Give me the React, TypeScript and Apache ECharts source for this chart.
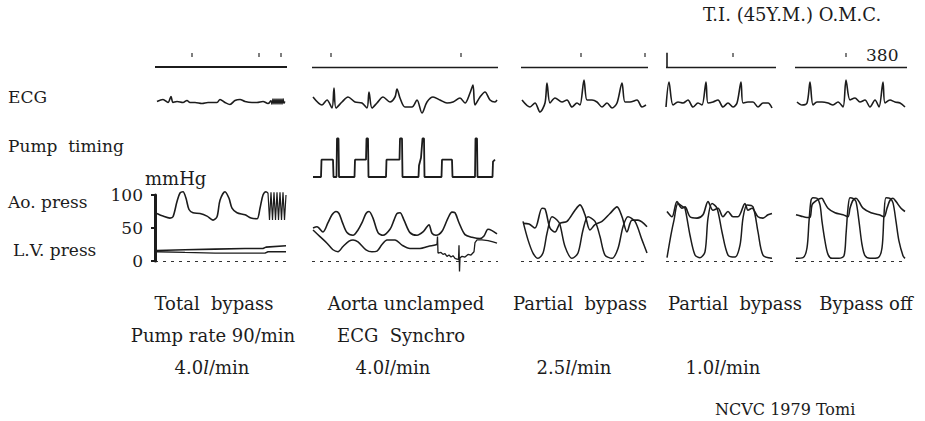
import { useEffect, useRef } from 'react';
import * as echarts from 'echarts';

// ---------------- DATA (time in chart-paper units within each panel) ----------------
const panelNames = ['Total  bypass', 'Aorta unclamped', 'Partial  bypass', 'Partial  bypass', 'Bypass off'];
const panelModes = ['Pump rate 90/min', 'ECG  Synchro'];
const panelFlows = ['4.0', '4.0', '2.5', '1.0'];
const rowLabels = ['ECG', 'Pump  timing', 'Ao. press', 'L.V. press'];
const pressureTicks = [0, 50, 100];
const headerText = 'T.I. (45Y.M.) O.M.C.';
const footerText = 'NCVC 1979 Tomi';
const speedLabel = '380';

// time-marker ticks per panel
const markerTicks1 = [37, 104, 126];
const markerTicks2 = [19, 149];
const markerTicks3 = [60, 124];
const markerTicks4 = [67];
const markerTicks5 = [51];
const markerStart4 = [[1, 0], [1, 0.95]];

// ECG (deflection units)
const ecg1 = [[2, 0], [8, 2], [13, -1], [16, 5], [18, -1], [22, 0], [28, -1], [32, 1], [35, -1], [40, -1], [47, -2], [53, -1], [62, -1], [65, 2], [70, -1], [75, -3], [80, 1], [85, 2], [90, 0], [97, -1], [102, -1], [108, 0], [113, -2], [116, 1]];
const ecg1Burst = [[116, 1], [117, -3], [118, 3], [119, -3], [120, 3], [121, -3], [122, 3], [123, -3], [124, 3], [125, -3], [126, 3], [127, -3], [128, 3], [129, -2], [130, 0]];
const ecg2 = [[1, 3], [10, -5], [15, 0], [20, -8], [22, 12], [24, -8], [30, -2], [36, 3], [43, -2], [50, -3], [55, -8], [57, 8], [60, -8], [65, -3], [71, 3], [78, -2], [83, 3], [85, 11], [88, 2], [93, -7], [100, -7], [105, 0], [110, -13], [115, -2], [121, 3], [128, 0], [135, -3], [141, -2], [148, 2], [153, -3], [158, 7], [161, 15], [163, -5], [168, 3], [173, 8], [178, 0], [183, -2], [185, 0]];
const ecg3 = [[1, 3], [9, -4], [14, 0], [19, -9], [24, 0], [26, 20], [29, 0], [34, 5], [41, 1], [46, 3], [51, -4], [56, 0], [59, -2], [63, 23], [66, 3], [71, 3], [76, 1], [81, -4], [86, 0], [91, -5], [96, 0], [101, 20], [104, 1], [109, 1], [116, 3], [121, -4], [125, -2]];
const ecg4 = [[0, -4], [3, 21], [7, -2], [12, 1], [17, 0], [22, 3], [27, -4], [32, 0], [36, -2], [40, 21], [42, 0], [47, 1], [52, 3], [57, -4], [62, 0], [67, -4], [71, 0], [75, 21], [77, 0], [82, 1], [87, 1], [92, -4], [97, 0], [102, 0], [106, -5]];
const ecg5 = [[2, 1], [7, -2], [12, 0], [15, 21], [18, -2], [22, 1], [27, 1], [33, 0], [38, -2], [43, 1], [48, -4], [51, 23], [55, 3], [60, 5], [65, 1], [70, 3], [75, -4], [80, 3], [84, -4], [88, 21], [90, 0], [95, 3], [100, 1], [105, 0], [110, -4]];

// Pump timing (panel 2), level 0 = off, ~0.9 = plateau, 2 = trigger spike
const pump2 = [[1, 0], [9, 0], [9.5, 0.9], [21, 0.9], [21.5, 0], [24.5, 0], [25, 2], [26.5, 2], [27, 0], [42.5, 0], [43, 0.9], [54, 0.9], [54.5, 2], [56, 2], [56.5, 0], [74, 0], [74.5, 0.9], [87.5, 0.9], [88, 2], [90, 2], [90.5, 0], [106.5, 0], [107, 0.6], [109, 1.0], [110.5, 2], [112, 2], [112.5, 0], [129.5, 0], [130, 0.9], [140, 0.9], [140.5, 0], [163, 0], [163.5, 2], [165, 2], [165.5, 0], [180.5, 0], [181, 0.8], [183, 0.9]];

// Pressures (mmHg)
const ao1 = [[2, 72], [8, 68], [15, 65], [18, 67], [22, 90], [25, 103], [28, 105], [31, 95], [34, 78], [38, 73], [45, 72], [52, 68], [58, 62], [62, 67], [65, 92], [70, 105], [74, 95], [77, 80], [82, 73], [90, 70], [96, 65], [102, 64], [105, 80], [108, 100], [111, 105], [113, 103]];
const ao1Burst = [[113, 103], [114.5, 62], [116, 104], [117.5, 62], [119, 104], [120.5, 62], [122, 104], [123.5, 62], [125, 104], [126.5, 62], [128, 104], [129.5, 62], [131, 100]];
const lv1Upper = [[2, 16], [30, 17], [60, 18], [90, 19], [108, 19], [111, 21], [131, 23]];
const lv1Lower = [[2, 14], [30, 13], [60, 12], [90, 12], [110, 12], [113, 14], [131, 14]];

const ao2 = [[1, 50], [5, 52], [11, 44], [16, 58], [20, 70], [24, 75], [27, 72], [30, 60], [35, 43], [41, 39], [46, 47], [50, 58], [54, 72], [57, 75], [61, 65], [66, 43], [71, 39], [78, 48], [82, 62], [85, 72], [88, 73], [92, 62], [98, 43], [105, 39], [111, 44], [115, 52], [117, 55], [120, 42], [124, 39], [130, 45], [136, 65], [140, 74], [143, 73], [147, 58], [153, 40], [160, 36], [168, 34], [172, 38], [176, 48], [180, 46], [185, 41]];
const lv2 = [[1, 47], [8, 37], [15, 27], [21, 17], [26, 14], [31, 22], [37, 30], [41, 32], [46, 29], [54, 17], [60, 14], [65, 15], [70, 25], [75, 32], [83, 32], [90, 24], [98, 19], [108, 19], [116, 22], [125, 25]];
const lv2Noise = [[125, 25], [125.5, 37], [126, 12], [129, 13], [131, 10], [133, 11], [135, 7], [137, 9], [139, 6], [141, 8], [143, 4], [145, 3], [146.5, 2], [147, 24], [147.5, -16], [148, 5], [150, 7], [153, 6], [156, 10], [159, 9], [162, 14], [163, 28], [165, 32], [170, 32], [176, 31], [181, 29], [185, 27]];

const ao3 = [[2, 57], [8, 56], [14, 50], [21, 80], [24, 79], [29, 50], [34, 44], [39, 57], [46, 60], [54, 77], [59, 85], [64, 70], [69, 47], [74, 55], [81, 60], [89, 72], [96, 82], [101, 67], [106, 44], [111, 62], [117, 62], [126, 52]];
const lv3 = [[2, 60], [7, 32], [12, 12], [17, 4], [22, 12], [26, 42], [31, 67], [36, 62], [39, 55], [44, 22], [51, 4], [57, 12], [62, 47], [67, 67], [74, 60], [79, 37], [84, 9], [91, 4], [97, 19], [102, 52], [107, 67], [114, 60], [121, 32], [126, 12]];

const ao4 = [[1, 75], [6, 67], [11, 90], [16, 80], [19, 82], [24, 67], [31, 65], [37, 70], [42, 90], [47, 77], [52, 80], [57, 67], [62, 75], [67, 67], [72, 67], [79, 87], [82, 77], [86, 80], [92, 67], [97, 65], [102, 70], [106, 72]];
const lv4 = [[1, 5], [5, 40], [8, 62], [12, 87], [17, 82], [19, 80], [24, 39], [29, 9], [34, 5], [39, 14], [42, 65], [46, 87], [51, 80], [56, 44], [62, 9], [69, 6], [74, 24], [77, 65], [81, 85], [87, 82], [92, 44], [97, 9], [106, 4]];

const ao5 = [[1, 70], [6, 68], [12, 66], [15, 66], [17, 85], [20, 90], [24, 94], [27, 95], [29, 90], [33, 80], [40, 73], [48, 70], [53, 67], [55, 80], [58, 92], [61, 95], [64, 90], [68, 80], [76, 73], [84, 70], [89, 67], [92, 80], [95, 92], [98, 95], [101, 90], [106, 80], [110, 75]];
const lv5 = [[1, 4], [8, 5], [12, 20], [14, 60], [16, 92], [18, 96], [22, 95], [25, 85], [27, 60], [30, 30], [33, 10], [37, 4], [44, 4], [49, 8], [51, 40], [53, 80], [55, 96], [58, 95], [61, 90], [64, 60], [67, 25], [70, 8], [75, 4], [83, 5], [87, 20], [89, 70], [91, 96], [95, 95], [98, 88], [101, 60], [104, 30], [108, 8], [110, 4]];

// ---------------- LAYOUT ----------------
const INK = '#1c1c1c';
const SERIF = '"DejaVu Serif", "Liberation Serif", serif';
const PANEL_LEFT = [155, 312, 521, 666, 795];
const PANEL_WIDTH = [132, 186, 127, 110, 112];
const ECG_BASELINE = [101.5, 100, 103, 103, 103];
const NAME_CENTER = [214, 406, 580, 735, 866];
const MODE_CENTER = [213, 401];
const FLOW_CENTER = [212, 393, 574, 723];

function buildOption() {
  const grid: any[] = [];
  const xAxis: any[] = [];
  const yAxis: any[] = [];
  const series: any[] = [];

  const addGrid = (p: number, top: number, height: number, ymin: number, ymax: number, yExtra: any = null) => {
    const i = grid.length;
    grid.push({ left: PANEL_LEFT[p], width: PANEL_WIDTH[p], top, height, containLabel: false, outerBoundsMode: 'none' });
    xAxis.push({ type: 'value', gridIndex: i, min: 0, max: PANEL_WIDTH[p], show: false });
    yAxis.push(yExtra ? { type: 'value', gridIndex: i, min: ymin, max: ymax, ...yExtra } : { type: 'value', gridIndex: i, min: ymin, max: ymax, show: false });
    return i;
  };
  const line = (gi: number, data: number[][], opt: any = {}) => {
    series.push({
      type: 'line', xAxisIndex: gi, yAxisIndex: gi, data, showSymbol: false, symbol: 'none', clip: false,
      smooth: opt.smooth ?? 0, silent: true,
      lineStyle: { color: INK, width: opt.width ?? 1.6, type: opt.type ?? 'solid', opacity: opt.opacity ?? 1 },
      markLine: opt.zero ? { silent: true, symbol: 'none', label: { show: false }, data: [{ yAxis: 0 }], lineStyle: { color: INK, width: opt.zeroW ?? 1.2, type: [3, 5], opacity: 0.9 } } : undefined,
    });
  };

  const ticksPerPanel = [markerTicks1, markerTicks2, markerTicks3, markerTicks4, markerTicks5];
  const ecgs = [ecg1, ecg2, ecg3, ecg4, ecg5];
  const aos = [ao1, ao2, ao3, ao4, ao5];
  const lvs = [lv1Lower, lv2, lv3, lv4, lv5];

  for (let p = 0; p < 5; p++) {
    // time marker row
    const tg = addGrid(p, 52, 15, 0, 1);
    series.push({
      type: 'scatter', xAxisIndex: tg, yAxisIndex: tg, silent: true,
      data: ticksPerPanel[p].map((t) => [t, 0.8]), symbol: 'rect', symbolSize: [1.5, 4],
      itemStyle: { color: INK, opacity: 0.75 },
      markLine: { silent: true, symbol: 'none', label: { show: false }, data: [{ yAxis: 0 }], lineStyle: { color: INK, width: p === 0 ? 1.8 : 1.4, type: 'solid' } },
    });
    if (p === 3) line(tg, markerStart4, { width: 1.6 });

    // ECG row
    const eg = addGrid(p, ECG_BASELINE[p] - 25, 50, -25, 25);
    line(eg, ecgs[p], { smooth: 0.3, width: 1.6 });
    if (p === 0) line(eg, ecg1Burst, { width: 1.3 });

    // pump timing row
    if (p === 1) {
      const pg = addGrid(p, 177 - 2.5 * 19.25, 3 * 19.25, -0.5, 2.5);
      line(pg, pump2, { width: 1.8 });
    }

    // pressure row
    const yExtra = p === 0 ? {
      show: true, position: 'left', offset: 7, interval: 50,
      axisLine: { show: true, lineStyle: { color: INK, width: 3 } },
      axisTick: { show: true, length: 4, lineStyle: { color: INK, width: 2 } },
      axisLabel: { show: true, color: INK, fontFamily: SERIF, fontSize: 17, margin: 5, customValues: pressureTicks },
      splitLine: { show: false },
    } : null;
    const gg = addGrid(p, 195, 66, 0, 100, yExtra);
    line(gg, aos[p], { smooth: 0.3, width: 1.6, zero: true });
    line(gg, lvs[p], { smooth: p === 0 ? 0 : 0.3, width: p === 0 ? 1.4 : 1.5 });
    if (p === 0) {
      line(gg, ao1Burst, { width: 1.2 });
      line(gg, lv1Upper, { width: 1.6 });
    }
    if (p === 1) line(gg, lv2Noise, { width: 1.3 });
  }

  const txt = (text: string, x: number, y: number, size: number, align = 'left', extra: any = {}) => ({
    type: 'text', x, y, silent: true,
    style: { text, fill: INK, fontFamily: SERIF, fontSize: size, align, textAlign: align, verticalAlign: 'middle', textVerticalAlign: 'middle', ...extra },
  });
  const flowText = (v: string, x: number) => ({
    type: 'text', x, y: 367, silent: true,
    style: {
      text: `{a|${v}}{i|l}{a|/min}`, fill: INK, fontFamily: SERIF, fontSize: 18, align: 'center', textAlign: 'center', verticalAlign: 'middle', textVerticalAlign: 'middle',
      rich: { a: { fontFamily: SERIF, fontSize: 18, fill: INK }, i: { fontFamily: SERIF, fontSize: 18, fontStyle: 'italic', fill: INK } },
    },
  });

  const elements: any[] = [
    txt(headerText, 703, 14, 18),
    txt(rowLabels[0], 8, 97, 17),
    txt(rowLabels[1], 8, 146, 17),
    txt(rowLabels[2], 8, 202, 17),
    txt(rowLabels[3], 13, 250, 17),
    txt('mmHg', 145, 178, 18),
    txt(speedLabel, 866, 55, 17),
    txt(footerText, 715, 409, 16),
  ];
  panelNames.forEach((n, i) => elements.push(txt(n, NAME_CENTER[i], 303, 18, 'center')));
  panelModes.forEach((n, i) => elements.push(txt(n, MODE_CENTER[i], 335, 18, 'center')));
  panelFlows.forEach((v, i) => elements.push(flowText(v, FLOW_CENTER[i])));

  return {
    animation: false,
    backgroundColor: '#ffffff',
    grid, xAxis, yAxis, series,
    graphic: { elements },
  };
}

export default function App() {
  const ref = useRef<HTMLDivElement>(null);
  useEffect(() => {
    document.body.style.margin = '0';
    const chart = echarts.init(ref.current!, null, { renderer: 'svg' });
    chart.setOption(buildOption() as any);
    return () => chart.dispose();
  }, []);
  return <div ref={ref} style={{ width: 925, height: 421, background: '#fff' }} />;
}
